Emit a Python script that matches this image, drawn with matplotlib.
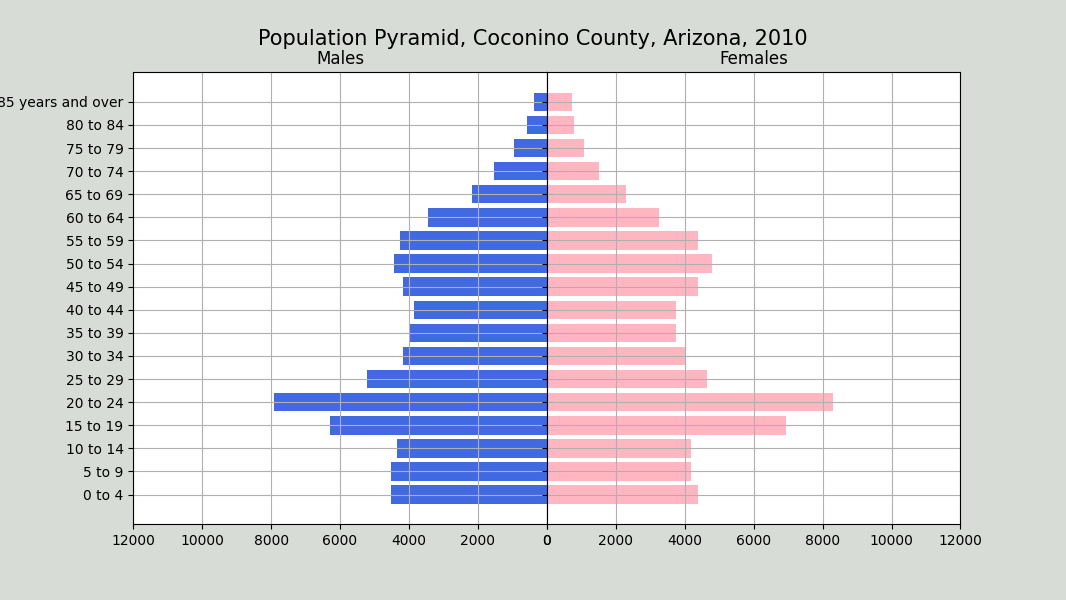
import matplotlib.pyplot as plt

age_groups = ['0 to 4', '5 to 9', '10 to 14', '15 to 19', '20 to 24', '25 to 29',
              '30 to 34', '35 to 39', '40 to 44', '45 to 49', '50 to 54', '55 to 59',
              '60 to 64', '65 to 69', '70 to 74', '75 to 79', '80 to 84', '85 years and over']
males = [4530, 4530, 4355, 6300, 7920, 5225, 4185, 3990, 3865, 4185, 4445, 4270,
         3460, 2185, 1545, 965, 590, 385]
females = [4395, 4195, 4195, 6945, 8310, 4655, 4020, 3760, 3760, 4395, 4800, 4395,
           3265, 2310, 1500, 1065, 775, 715]

fig, (ax_m, ax_f) = plt.subplots(1, 2, sharey=True, figsize=(10.66, 6))
fig.patch.set_facecolor('xkcd:light gray')
fig.subplots_adjust(left=0.125, right=0.901, top=0.88, bottom=0.126, wspace=0)

ax_m.barh(age_groups, males, height=0.8, color='royalblue')
ax_m.set_xlim(0, 12000)
ax_m.invert_xaxis()
ax_m.set_title('Males')
ax_m.grid(True)

ax_f.barh(age_groups, females, height=0.8, color='lightpink')
ax_f.set_xlim(0, 12000)
ax_f.set_title('Females')
ax_f.grid(True)

fig.suptitle('Population Pyramid, Coconino County, Arizona, 2010', fontsize=15, y=0.952)

plt.savefig('out.png', dpi=100)
